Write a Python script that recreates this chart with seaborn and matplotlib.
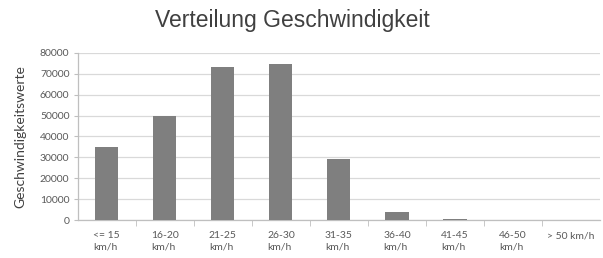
import matplotlib
matplotlib.use('Agg')
import matplotlib.pyplot as plt
import seaborn as sns
import pandas as pd
from matplotlib.ticker import FixedLocator

sns.set_style("white")
plt.rcParams['font.family'] = ['Lato', 'DejaVu Sans']

# ── Daten ─────────────────────────────────────────────
kategorien = ['<= 15\nkm/h', '16-20\nkm/h', '21-25\nkm/h', '26-30\nkm/h', '31-35\nkm/h',
              '36-40\nkm/h', '41-45\nkm/h', '46-50\nkm/h', '> 50 km/h']
werte = [34900, 49800, 73200, 74800, 29200, 4000, 500, 120, 50]
y_ticks = [0, 10000, 20000, 30000, 40000, 50000, 60000, 70000, 80000]

df = pd.DataFrame({'kat': kategorien, 'wert': werte})

fig = plt.figure(figsize=(6.03, 2.58), dpi=100)
ax = fig.add_axes([0.129, 0.147, 0.866, 0.648])

sns.barplot(data=df, x='kat', y='wert', color='#7f7f7f', saturation=1,
            width=0.4, ax=ax, zorder=3, linewidth=0)

ax.set_ylim(0, 80000)
ax.set_xlim(-0.5, len(kategorien) - 0.5)
ax.set_yticks(y_ticks)
ax.set_yticklabels([str(v) for v in y_ticks])
ax.yaxis.grid(True, color='#d9d9d9', linewidth=0.9, zorder=0)
ax.set_axisbelow(True)

for s in ['top', 'right']:
    ax.spines[s].set_visible(False)
for s in ['left', 'bottom']:
    ax.spines[s].set_color('#bfbfbf')
    ax.spines[s].set_linewidth(0.9)

ax.tick_params(axis='y', length=3, color='#bfbfbf', labelsize=7.5,
               labelcolor='#595959', pad=3, left=True)
ax.tick_params(axis='x', length=0, labelsize=7.5, labelcolor='#595959', pad=8)
for lbl in ax.get_xticklabels():
    lbl.set_horizontalalignment('center')
    lbl.set_multialignment('left')
    lbl.set_linespacing(1.35)

# Trennstriche zwischen den Kategorien
ax.xaxis.set_minor_locator(FixedLocator([i + 0.5 for i in range(len(kategorien) - 1)]))
ax.tick_params(axis='x', which='minor', length=4, color='#bfbfbf', bottom=True)

ax.set_xlabel('')
ax.set_ylabel('Geschwindigkeitswerte', fontsize=10, color='#404040', labelpad=10)
fig.text(0.485, 0.92, 'Verteilung Geschwindigkeit', ha='center', va='center',
         fontsize=16.5, color='#404040', family=['Liberation Sans', 'DejaVu Sans'])

plt.savefig('out.png', dpi=100)
plt.close()
